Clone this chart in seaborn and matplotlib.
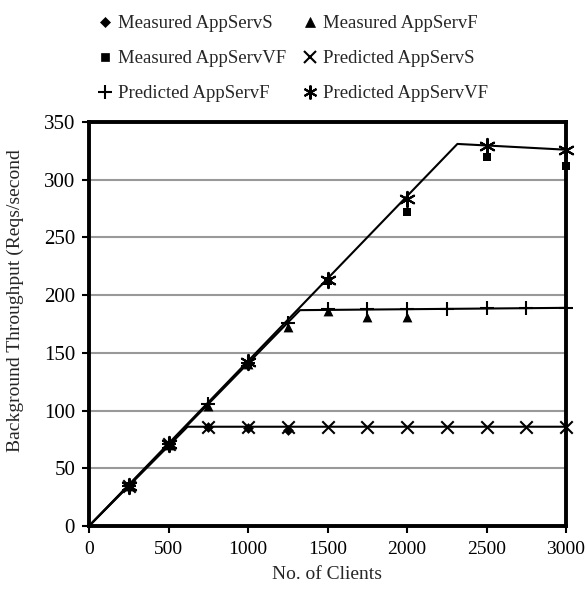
import matplotlib
matplotlib.use("Agg")
import matplotlib.pyplot as plt
from matplotlib.lines import Line2D
import seaborn as sns
import pandas as pd

# ---- data ----
meas_S_x = [250, 500, 750, 1000, 1250]
meas_S_y = [35, 70, 86, 85, 83]

meas_F_x = [250, 500, 750, 1000, 1250, 1500, 1750, 2000]
meas_F_y = [35, 70, 104, 140, 172, 186, 181, 181]

meas_VF_x = [250, 500, 1000, 1500, 2000, 2500, 3000]
meas_VF_y = [35, 70, 140, 212, 272, 320, 312]

pred_S_x = [250, 500, 750, 1000, 1250, 1500, 1750, 2000, 2250, 2500, 2750, 3000]
pred_S_y = [35, 71, 86, 86, 86, 86, 86, 86, 86, 86, 86, 86]

pred_F_x = [250, 500, 750, 1000, 1250, 1500, 1750, 2000, 2250, 2500, 2750, 3000]
pred_F_y = [35, 71, 106, 141, 176, 188, 188, 188, 188, 189, 189, 189]

pred_VF_x = [250, 500, 1000, 1500, 2000, 2500, 3000]
pred_VF_y = [35, 71, 142, 213, 283, 329, 326]

# model curves (knee points)
curve_S_x = [0, 620, 3000]
curve_S_y = [0, 86, 86]
curve_F_x = [0, 1327, 3000]
curve_F_y = [0, 187, 189]
curve_VF_x = [0, 2317, 3000]
curve_VF_y = [0, 331, 326]

x_ticks = [0, 500, 1000, 1500, 2000, 2500, 3000]
y_ticks = [0, 50, 100, 150, 200, 250, 300, 350]

labels = ["Measured AppServS", "Measured AppServF", "Measured AppServVF",
          "Predicted AppServS", "Predicted AppServF", "Predicted AppServVF"]

# ---- style ----
sns.set_style("white")
plt.rcParams["font.family"] = ["Liberation Serif", "DejaVu Serif"]
FS = 13.5

fig = plt.figure(figsize=(5.88, 5.90), dpi=100)
ax = fig.add_axes([89 / 588, 1 - 526 / 590, (566 - 89) / 588, (526 - 122) / 590])

# gridlines
for yv in y_ticks[1:-1]:
    ax.axhline(yv, color="#999999", lw=1.5, zorder=0)

# curves
for cx, cy in [(curve_S_x, curve_S_y), (curve_F_x, curve_F_y), (curve_VF_x, curve_VF_y)]:
    df = pd.DataFrame({"x": cx, "y": cy})
    sns.lineplot(data=df, x="x", y="y", ax=ax, color="black", lw=1.5,
                 estimator=None, sort=False, zorder=2, clip_on=False)

ASTER = (6, 2, 0)
specs = [
    (meas_S_x, meas_S_y, "D", 30, 0.0),
    (meas_F_x, meas_F_y, "^", 50, 0.0),
    (meas_VF_x, meas_VF_y, "s", 30, 0.0),
    (pred_S_x, pred_S_y, "x", 80, 1.5),
    (pred_F_x, pred_F_y, "+", 110, 1.5),
    (pred_VF_x, pred_VF_y, ASTER, 120, 1.5),
]
for xs, ys, mk, sz, lw in specs:
    df = pd.DataFrame({"x": xs, "y": ys})
    if lw == 0:
        sns.scatterplot(data=df, x="x", y="y", ax=ax, marker=mk, s=sz,
                        color="black", edgecolor="black", linewidth=0,
                        zorder=3, clip_on=False)
    else:
        sns.scatterplot(data=df, x="x", y="y", ax=ax, marker=mk, s=sz,
                        color="black", linewidth=lw, zorder=3, clip_on=False)

ax.set_xlim(0, 3000)
ax.set_ylim(0, 350)
ax.set_xticks(x_ticks)
ax.set_yticks(y_ticks)
ax.tick_params(axis="both", direction="out", length=5, width=1.5,
               colors="black", bottom=True, left=True, pad=4)
ax.tick_params(axis="x", labelsize=14, pad=6)
ax.tick_params(axis="y", labelsize=15, pad=5)
for sp in ax.spines.values():
    sp.set_visible(True)
    sp.set_color("black")
    sp.set_linewidth(2.8)
    sp.set_zorder(2.5)

ax.set_xlabel("No. of Clients", fontsize=14)
ax.xaxis.set_label_coords(0.5, -0.1)
ax.set_ylabel("Background Throughput (Reqs/second", fontsize=14)
ax.yaxis.set_label_coords(-0.136, 0.557)

# legend
def h(mk, ms, mew):
    return Line2D([], [], ls="", marker=mk, color="black", markersize=ms,
                  markeredgewidth=mew)

handles = {
    labels[0]: h("D", 5, 0.5),
    labels[1]: h("^", 7, 0.5),
    labels[2]: h("s", 5.5, 0.5),
    labels[3]: h("x", 9, 1.5),
    labels[4]: h("+", 10, 1.5),
    labels[5]: h(ASTER, 10, 1.5),
}
order = [labels[0], labels[2], labels[4], labels[1], labels[3], labels[5]]
fig.legend([handles[k] for k in order], order, ncol=2, frameon=False,
           loc="upper left", bbox_to_anchor=(82 / 588, 1 - 2 / 590),
           fontsize=FS, handlelength=1.0, handletextpad=0.2,
           columnspacing=0.8, labelspacing=0.95, borderpad=0.2)

fig.savefig("out.png", dpi=100)
